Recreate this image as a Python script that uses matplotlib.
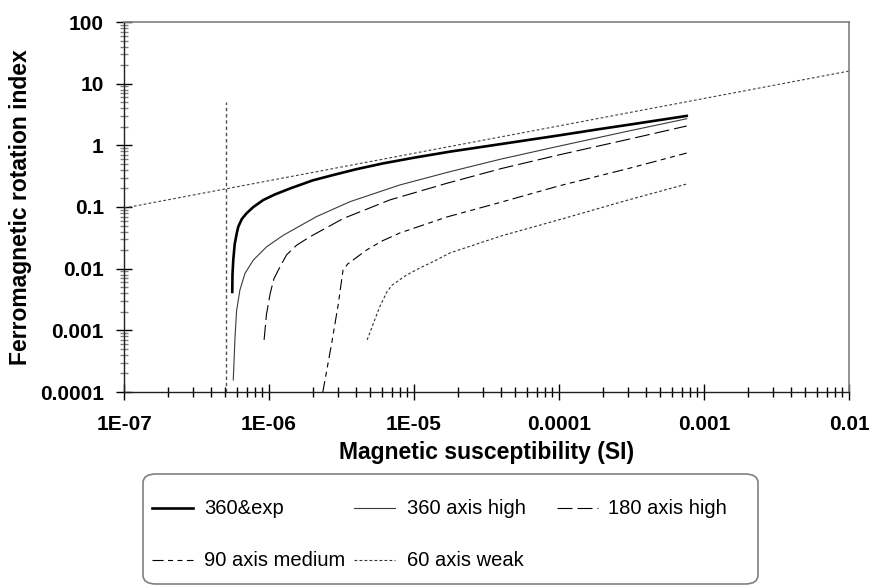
import numpy as np
import matplotlib
matplotlib.use('Agg')
import matplotlib.pyplot as plt
from matplotlib.patches import FancyBboxPatch
from matplotlib.lines import Line2D
from matplotlib.ticker import LogLocator, FixedLocator, FixedFormatter, NullFormatter

plt.rcParams['font.family'] = ['Liberation Sans', 'DejaVu Sans']

# data
x_360exp = [5.58e-7, 5.6e-7, 5.67e-7, 5.8e-7, 6.0e-7, 6.14e-7, 6.5e-7, 7.0e-7, 7.8e-7,
            9.14e-7, 1.1e-6, 1.4e-6, 2e-6, 2.77e-6, 4e-6, 6.13e-6, 1e-5, 1.77e-5, 3e-5,
            1e-4, 1.92e-4, 3e-4, 7.6e-4]
y_360exp = [0.0042, 0.008, 0.0138, 0.025, 0.038, 0.048, 0.064, 0.079, 0.1,
            0.13, 0.16, 0.2, 0.27, 0.33, 0.41, 0.51, 0.63, 0.79, 0.95,
            1.45, 1.84, 2.15, 3.0]

x_360high = [5.67e-7, 5.75e-7, 5.83e-7, 5.98e-7, 6.3e-7, 6.83e-7, 7.8e-7, 9.64e-7,
             1.26e-6, 2.13e-6, 3.62e-6, 8e-6, 1.77e-5, 4e-5, 1e-4, 3e-4, 7.6e-4]
y_360high = [1.57e-4, 3.5e-4, 7.9e-4, 0.0021, 0.0045, 0.0084, 0.0138, 0.0227,
             0.035, 0.07, 0.122, 0.228, 0.374, 0.6, 0.97, 1.7, 2.7]

x_180high = [9.25e-7, 9.6e-7, 1.02e-6, 1.08e-6, 1.16e-6, 1.32e-6, 1.55e-6, 1.92e-6,
             3.25e-6, 6.8e-6, 1.68e-5, 4e-5, 1e-4, 3e-4, 7.6e-4]
y_180high = [7e-4, 0.0018, 0.004, 0.0068, 0.0095, 0.0167, 0.024, 0.033,
             0.065, 0.13, 0.242, 0.42, 0.7, 1.25, 2.06]

x_90med = [2.35e-6, 2.7e-6, 3.0e-6, 3.24e-6, 3.5e-6, 3.8e-6, 4.7e-6, 6e-6, 8e-6,
           1.69e-5, 4e-5, 1e-4, 3e-4, 7.6e-4]
y_90med = [1e-4, 6e-4, 0.0026, 0.0095, 0.012, 0.0138, 0.02, 0.028, 0.038,
           0.069, 0.12, 0.22, 0.42, 0.75]

x_60weak = [4.75e-6, 5.8e-6, 6.5e-6, 7.05e-6, 8.9e-6, 1.1e-5, 1.35e-5, 1.77e-5,
            4e-5, 1e-4, 3e-4, 7.6e-4]
y_60weak = [7e-4, 0.0024, 0.0042, 0.0054, 0.0079, 0.0103, 0.0129, 0.018,
            0.034, 0.062, 0.13, 0.236]

x_ref = [1e-7, 1e-2]
y_ref = [0.096, 16]
x_limit = [5.05e-7, 5.05e-7]
y_limit = [1e-4, 5]

xticks = [1e-7, 1e-6, 1e-5, 1e-4, 1e-3, 1e-2]
xticklabels = ['1E-07', '1E-06', '1E-05', '0.0001', '0.001', '0.01']
yticks = [1e-4, 1e-3, 1e-2, 1e-1, 1, 10, 100]
yticklabels = ['0.0001', '0.001', '0.01', '0.1', '1', '10', '100']

W, H = 869, 586
fig = plt.figure(figsize=(W / 100, H / 100), dpi=100)
ax = fig.add_axes([124 / W, 1 - 392 / H, (849 - 124) / W, (392 - 22) / H])

styles = {
    '360&exp': dict(color='black', lw=1.9, ls='-'),
    '360 axis high': dict(color='#3a3a3a', lw=0.8, ls='-'),
    '180 axis high': dict(color='black', lw=0.8, dashes=(13.5, 4.5)),
    '90 axis medium': dict(color='black', lw=0.8, dashes=(10, 4, 4.5, 4, 4.5, 4)),
    '60 axis weak': dict(color='#303030', lw=0.8, dashes=(2.5, 2)),
}

ax.plot(x_ref, y_ref, color='#404040', lw=0.8, dashes=(2.5, 2))
ax.plot(x_limit, y_limit, color='#505050', lw=1.0, dashes=(2.5, 2))
ax.plot(x_360exp, y_360exp, **styles['360&exp'])
ax.plot(x_360high, y_360high, **styles['360 axis high'])
ax.plot(x_180high, y_180high, **styles['180 axis high'])
ax.plot(x_90med, y_90med, **styles['90 axis medium'])
ax.plot(x_60weak, y_60weak, **styles['60 axis weak'])

ax.set_xscale('log')
ax.set_yscale('log')
ax.set_xlim(1e-7, 1e-2)
ax.set_ylim(1e-4, 100)

ax.xaxis.set_major_locator(FixedLocator(xticks))
ax.xaxis.set_major_formatter(FixedFormatter(xticklabels))
ax.yaxis.set_major_locator(FixedLocator(yticks))
ax.yaxis.set_major_formatter(FixedFormatter(yticklabels))
ax.xaxis.set_minor_locator(LogLocator(base=10, subs=np.arange(2, 10), numticks=20))
ax.yaxis.set_minor_locator(LogLocator(base=10, subs=np.arange(2, 10), numticks=20))
ax.xaxis.set_minor_formatter(NullFormatter())
ax.yaxis.set_minor_formatter(NullFormatter())

for lab in ax.get_xticklabels() + ax.get_yticklabels():
    lab.set_fontweight('bold')
    lab.set_fontsize(15)

ax.tick_params(axis='both', which='major', direction='inout', length=11, width=1, color='black')
ax.tick_params(axis='x', which='major', pad=11)
ax.tick_params(axis='y', which='major', pad=9)
ax.tick_params(axis='x', which='minor', direction='inout', length=6.5, width=1, color='black')
ax.tick_params(axis='y', which='minor', direction='inout', length=5.5, width=1, color='#808080')

for side in ['top', 'right']:
    ax.spines[side].set_color('#808080')
    ax.spines[side].set_linewidth(1.2)
for side in ['left', 'bottom']:
    ax.spines[side].set_color('#202020')
    ax.spines[side].set_linewidth(1)

ax.set_xlabel('Magnetic susceptibility (SI)', fontsize=16.5, fontweight='bold', labelpad=5)
fig.text(21 / W, 1 - 207 / H, 'Ferromagnetic rotation index', rotation=90, fontsize=16.5,
         fontweight='bold', ha='center', va='center')

# legend box below the plot
def fx(px):
    return px / W

def fy(py):
    return 1 - py / H

box = FancyBboxPatch((fx(143), fy(584)), fx(758) - fx(143), fy(474) - fy(584),
                     boxstyle='round,pad=0,rounding_size=0.015', transform=fig.transFigure,
                     facecolor='white', edgecolor='#808080', lw=1.2)
fig.add_artist(box)

names = list(styles.keys())
cols = [(152, 204), (354, 407), (557, 608)]
rows = [508, 560]
for i, name in enumerate(names):
    r, c = divmod(i, 3)
    x0, xt = cols[c]
    yy = rows[r]
    fig.add_artist(Line2D([fx(x0), fx(x0 + 41)], [fy(yy), fy(yy)], transform=fig.transFigure,
                          **styles[name]))
    fig.text(fx(xt), fy(yy), name, fontsize=14.5, va='center', ha='left')

fig.savefig('out.png', dpi=100)
